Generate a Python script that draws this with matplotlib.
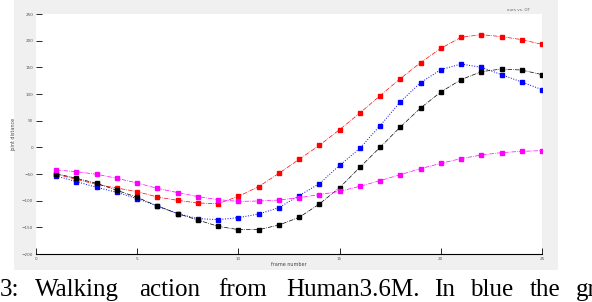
import numpy as np
import matplotlib
matplotlib.use('Agg')
import matplotlib.pyplot as plt
from matplotlib.patches import Rectangle

frames = np.arange(1, 26)

red = [-50.6, -60.0, -69.4, -76.3, -83.1, -93.2, -99.4, -104.4, -105.6, -91.9,
       -73.7, -48.8, -22.5, 3.8, 33.2, 64.3, 96.9, 128.8, 158.8, 185.6,
       206.3, 211.3, 207.6, 201.9, 193.1]
blue = [-53.8, -64.3, -75.0, -84.4, -96.2, -110.1, -124.3, -133.7, -135.6, -131.8,
        -125.1, -113.1, -90.6, -68.1, -33.8, -1.9, 40.7, 85.3, 121.3, 145.7,
        156.2, 150.0, 136.3, 122.4, 108.2]
black = [-49.3, -58.1, -67.5, -80.6, -93.8, -110.1, -124.3, -136.3, -148.1, -154.3,
         -154.3, -145.7, -131.3, -106.3, -75.6, -37.5, 0.0, 38.1, 73.7, 103.7,
         126.9, 141.9, 146.8, 144.9, 136.3]
magenta = [-42.6, -45.6, -50.6, -58.1, -66.9, -76.9, -84.9, -92.4, -98.1, -101.3,
           -100.7, -98.8, -94.3, -88.7, -82.5, -73.1, -62.4, -51.2, -39.9, -30.0,
           -21.2, -14.4, -9.9, -7.5, -6.2]

xticks = [0, 5, 10, 15, 20, 25]
yticks = [-200, -150, -100, -50, 0, 50, 100, 150, 200, 250]

caption_words = ['3:', 'Walking', 'action', 'from', 'Human3.6M.', 'In', 'blue', 'the', 'gro']
caption_x = [0, 35, 139, 218, 286, 434, 470, 530, 576]

W, H = 592, 302
fig = plt.figure(figsize=(W / 100, H / 100), dpi=100)
fig.patch.set_facecolor('white')

# grey matlab-style figure background
fig.patches.append(Rectangle((14 / W, 1 - 270 / H), 544 / W, 270 / H,
                             transform=fig.transFigure, facecolor='#f0f0f0',
                             edgecolor='none', zorder=-5))

ax = fig.add_axes([36 / W, 1 - 254 / H, 506 / W, 240 / H])
ax.set_zorder(2)
ax.set_facecolor('white')

style = dict(linestyle='-.', linewidth=0.5, marker='s', markersize=2.2)
ax.plot(frames, red, color='red', **style)
ax.plot(frames, blue, color='blue', linestyle=':', linewidth=0.7,
        marker='s', markersize=2.2)
ax.plot(frames, black, color='black', **style)
ax.plot(frames, magenta, color='magenta', **style)

ax.set_xlim(0, 25)
ax.set_ylim(-200, 250)
ax.set_xticks(xticks)
ax.set_yticks(yticks)
ax.tick_params(direction='in', length=4, width=0.6, labelsize=3,
               labelcolor='#555555', pad=2)
for s in ['top', 'right', 'left']:
    ax.spines[s].set_visible(False)
ax.spines['bottom'].set_linewidth(0.8)

ax.set_xlabel('frame number', fontsize=3.5, color='#444444', labelpad=1)
ax.set_ylabel('joint distance', fontsize=3.5, color='#444444', labelpad=4)
fig.text(530 / W, 1 - 11 / H, 'ours vs. GT', fontsize=3, color='#666666',
         ha='right', va='baseline', zorder=3)

for word, x in zip(caption_words, caption_x):
    fig.text(x / W, 1 - 296 / H, word, fontsize=18, family='Liberation Serif',
             ha='left', va='baseline')

fig.savefig('out.png', dpi=100)
